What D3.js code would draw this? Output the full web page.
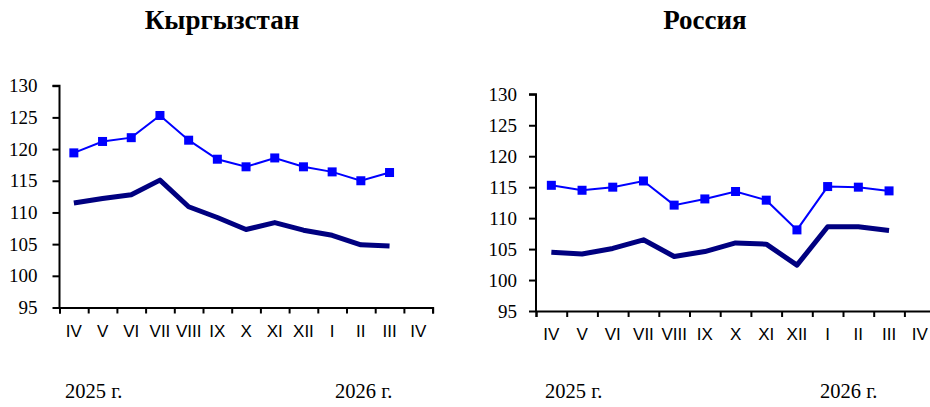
<!DOCTYPE html>
<html>
<head>
<meta charset="utf-8">
<script src="https://cdn.jsdelivr.net/npm/d3@7"></script>
<style>
  body { margin: 0; background: #fff; }
  .serif { font-family: "Times New Roman", "Liberation Serif", Tinos, "DejaVu Serif", serif; }
  .sans { font-family: Arial, "Liberation Sans", sans-serif; }
</style>
</head>
<body>
<div id="chart"></div>
<script>
// months on the x axis (last IV has no data)
var months = ["IV", "V", "VI", "VII", "VIII", "IX", "X", "XI", "XII", "I", "II", "III", "IV"];
var yTicks = [95, 100, 105, 110, 115, 120, 125, 130];
var yearLabels = ["2025 г.", "2026 г."];

var kgBlue = [119.4, 121.2, 121.8, 125.3, 121.4, 118.4, 117.2, 118.6, 117.2, 116.4, 115.0, 116.3];
var kgNavy = [111.5, 112.2, 112.8, 115.1, 110.9, 109.2, 107.3, 108.4, 107.2, 106.4, 104.9, 104.7];
var ruBlue = [115.3, 114.5, 115.0, 116.0, 112.1, 113.1, 114.3, 112.9, 108.1, 115.1, 115.0, 114.4];
var ruNavy = [104.5, 104.2, 105.1, 106.5, 103.8, 104.6, 106.0, 105.8, 102.4, 108.6, 108.6, 108.0];

var serif = "'Times New Roman', 'Liberation Serif', Tinos, 'DejaVu Serif', serif";

var svg = d3.select("#chart")
    .append("svg")
    .attr("width", 930)
    .attr("height", 407);

function drawPanel(opt) {
    var g = svg.append("g");
    var x = d3.scaleBand()
        .domain(d3.range(months.length))
        .range([opt.left, opt.left + opt.band * months.length])
        .padding(0);
    var xt = d3.scaleLinear()
        .domain([0, months.length])
        .range([opt.left, opt.left + opt.band * months.length]);
    var y = d3.scaleLinear()
        .domain([95, 130])
        .range([opt.bottom, opt.top]);

    // title
    g.append("text")
        .attr("class", "serif")
        .attr("x", opt.titleX)
        .attr("y", 29)
        .attr("text-anchor", "middle")
        .attr("font-family", serif)
        .attr("font-weight", "bold")
        .attr("font-size", 27)
        .text(opt.title);

    // y axis
    var ya = g.append("g")
        .attr("transform", "translate(" + opt.left + ",0)")
        .call(d3.axisLeft(y).tickValues(yTicks).tickSize(7).tickPadding(opt.ypad));
    ya.attr("font-family", serif).attr("font-size", 19);
    ya.selectAll("text").attr("class", "serif").style("fill", "black");

    // x axis tick marks at band edges
    g.append("g")
        .attr("transform", "translate(0," + opt.bottom + ")")
        .call(d3.axisBottom(xt).tickValues(d3.range(months.length + 1)).tickSize(6).tickFormat(""));

    // month labels
    g.append("g")
        .selectAll("text")
        .data(months)
        .enter()
        .append("text")
        .attr("class", "sans")
        .attr("x", function(d, i) { return x(i) + x.bandwidth() / 2; })
        .attr("y", opt.bottom + 29)
        .attr("text-anchor", "middle")
        .attr("font-size", 17)
        .text(function(d) { return d; });

    g.selectAll(".domain, .tick line")
        .attr("stroke", "black")
        .attr("stroke-width", 2);
    ya.select(".domain").attr("d", "M-7," + opt.top + "H0V" + opt.bottom);

    // year labels
    g.selectAll("text.year")
        .data(yearLabels)
        .enter()
        .append("text")
        .attr("class", "year serif")
        .attr("x", function(d, i) { return opt.yearX[i]; })
        .attr("y", 398)
        .attr("font-family", serif)
        .attr("font-size", 20.5)
        .text(function(d) { return d; });

    var line = d3.line()
        .x(function(d, i) { return x(i) + x.bandwidth() / 2; })
        .y(function(d) { return y(d); });

    g.append("path")
        .datum(opt.navy)
        .attr("fill", "none")
        .attr("stroke", "#000080")
        .attr("stroke-width", 5)
        .attr("stroke-linejoin", "round")
        .attr("d", line);

    g.append("path")
        .datum(opt.blue)
        .attr("fill", "none")
        .attr("stroke", "#0000ff")
        .attr("stroke-width", 2)
        .attr("d", line);

    g.selectAll("rect.pt")
        .data(opt.blue)
        .enter()
        .append("rect")
        .attr("class", "pt")
        .attr("x", function(d, i) { return x(i) + x.bandwidth() / 2 - 4.5; })
        .attr("y", function(d) { return y(d) - 4.5; })
        .attr("width", 9)
        .attr("height", 9)
        .attr("fill", "#0000ff");
}

drawPanel({
    title: "Кыргызстан", titleX: 222,
    left: 59.5, band: 28.7, top: 85.7, bottom: 307.5, ypad: 15,
    yearX: [65, 335],
    blue: kgBlue, navy: kgNavy
});

drawPanel({
    title: "Россия", titleX: 705,
    left: 536, band: 30.7, top: 94.3, bottom: 311, ypad: 12,
    yearX: [545, 820],
    blue: ruBlue, navy: ruNavy
});
</script>
</body>
</html>
